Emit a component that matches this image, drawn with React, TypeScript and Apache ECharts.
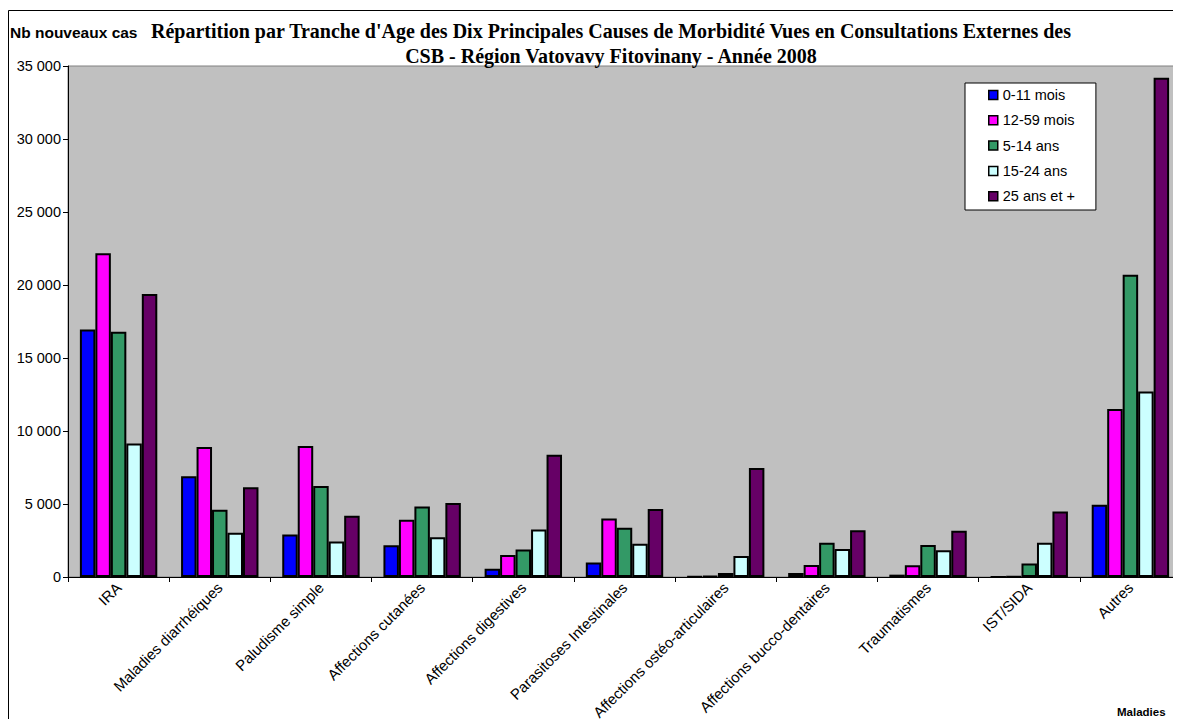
import React, { useEffect, useRef } from "react";
import * as echarts from "echarts";

const categories = [
  "IRA",
  "Maladies diarrhéiques",
  "Paludisme simple",
  "Affections cutanées",
  "Affections digestives",
  "Parasitoses Intestinales",
  "Affections ostéo-articulaires",
  "Affections bucco-dentaires",
  "Traumatismes",
  "IST/SIDA",
  "Autres",
];
const seriesNames = ["0-11 mois", "12-59 mois", "5-14 ans", "15-24 ans", "25 ans et +"];
const s0_11mois = [16950, 6900, 2910, 2180, 570, 990, 20, 280, 160, 5, 4950];
const s12_59mois = [22180, 8900, 8970, 3920, 1510, 4010, 70, 820, 800, 20, 11500];
const s5_14ans = [16790, 4610, 6240, 4830, 1880, 3370, 280, 2340, 2200, 920, 20700];
const s15_24ans = [9150, 3030, 2430, 2730, 3250, 2270, 1440, 1920, 1830, 2340, 12700];
const s25plus = [19380, 6150, 4200, 5060, 8380, 4650, 7470, 3210, 3160, 4490, 34200];
const seriesColors = ["#0000FF", "#FF00FF", "#339966", "#CCFFFF", "#660066"];
const yTicks = { min: 0, max: 35000, interval: 5000 };

const SANS = "Liberation Sans";
const SERIF = "Liberation Serif";

const fmt = (v: number) => String(v).replace(/\B(?=(\d{3})+(?!\d))/g, " ");

export default function App() {
  const ref = useRef<HTMLDivElement>(null);
  useEffect(() => {
    document.documentElement.style.overflow = "hidden";
    const chart = echarts.init(ref.current!, undefined, { renderer: "svg" });
    const allData = [s0_11mois, s12_59mois, s5_14ans, s15_24ans, s25plus];
    chart.setOption({
      animation: false,
      backgroundColor: "#fff",
      title: {
        text:
          "Répartition par Tranche d'Age des Dix Principales Causes de Morbidité Vues en Consultations Externes des\nCSB - Région Vatovavy Fitovinany - Année 2008",
        left: 603,
        top: 10,
        padding: 0,
        textAlign: "center",
        textStyle: {
          fontFamily: SERIF,
          fontWeight: "bold",
          fontSize: 20,
          lineHeight: 25,
          color: "#000",
        },
      },
      legend: {
        orient: "vertical",
        left: 957,
        top: 75,
        padding: [4.5, 21, 6.3, 23],
        itemWidth: 9,
        itemHeight: 9,
        itemGap: 10.3,
        backgroundColor: "#fff",
        borderColor: "#000",
        borderWidth: 1,
        icon: "rect",
        itemStyle: { borderColor: "#000", borderWidth: 1.5 },
        textStyle: { fontFamily: SANS, fontSize: 14.5, color: "#000" },
        data: seriesNames,
      },
      grid: {
        left: 60,
        top: 58,
        width: 1126,
        height: 511,
        show: true,
        backgroundColor: "#C0C0C0",
        borderColor: "#808080",
        borderWidth: 1,
      },
      xAxis: {
        type: "category",
        data: categories,
        boundaryGap: true,
        axisLine: { show: true, lineStyle: { color: "#000", width: 1 } },
        axisTick: { show: true, length: 5, lineStyle: { color: "#000" } },
        axisLabel: {
          interval: 0,
          rotate: 45,
          margin: 8,
          fontFamily: SANS,
          fontSize: 15,
          color: "#000",
        },
      },
      yAxis: {
        type: "value",
        min: yTicks.min,
        max: yTicks.max,
        interval: yTicks.interval,
        splitLine: { show: false },
        axisLine: { show: true, lineStyle: { color: "#000", width: 1 } },
        axisTick: { show: true, length: 5, lineStyle: { color: "#000" } },
        axisLabel: {
          margin: 7,
          fontFamily: SANS,
          fontSize: 14.5,
          color: "#000",
          formatter: (v: number) => fmt(v),
        },
      },
      series: seriesNames.map((name, i) => ({
        name,
        type: "bar",
        data: allData[i],
        barGap: "0%",
        barCategoryGap: "23.5%",
        itemStyle: { color: seriesColors[i], borderColor: "#000", borderWidth: 2 },
      })),
      graphic: [
        {
          type: "rect",
          shape: { x: 0.5, y: 2.5, width: 1300, height: 900 },
          style: { fill: "none", stroke: "#000", lineWidth: 1 },
          z: 100,
          silent: true,
        },
        {
          type: "text",
          x: 2,
          y: 24,
          style: {
            text: "Nb nouveaux cas",
            fontFamily: SANS,
            fontWeight: "bold",
            fontSize: 15.5,
            fill: "#000",
            textVerticalAlign: "middle",
          },
        },
        {
          type: "text",
          x: 1109,
          y: 704,
          style: {
            text: "Maladies",
            fontFamily: SANS,
            fontWeight: "bold",
            fontSize: 11.5,
            fill: "#000",
            textVerticalAlign: "middle",
          },
        },
      ],
    });
    return () => chart.dispose();
  }, []);
  return <div ref={ref} style={{ width: 1173, height: 719, marginBottom: -8 }} />;
}
